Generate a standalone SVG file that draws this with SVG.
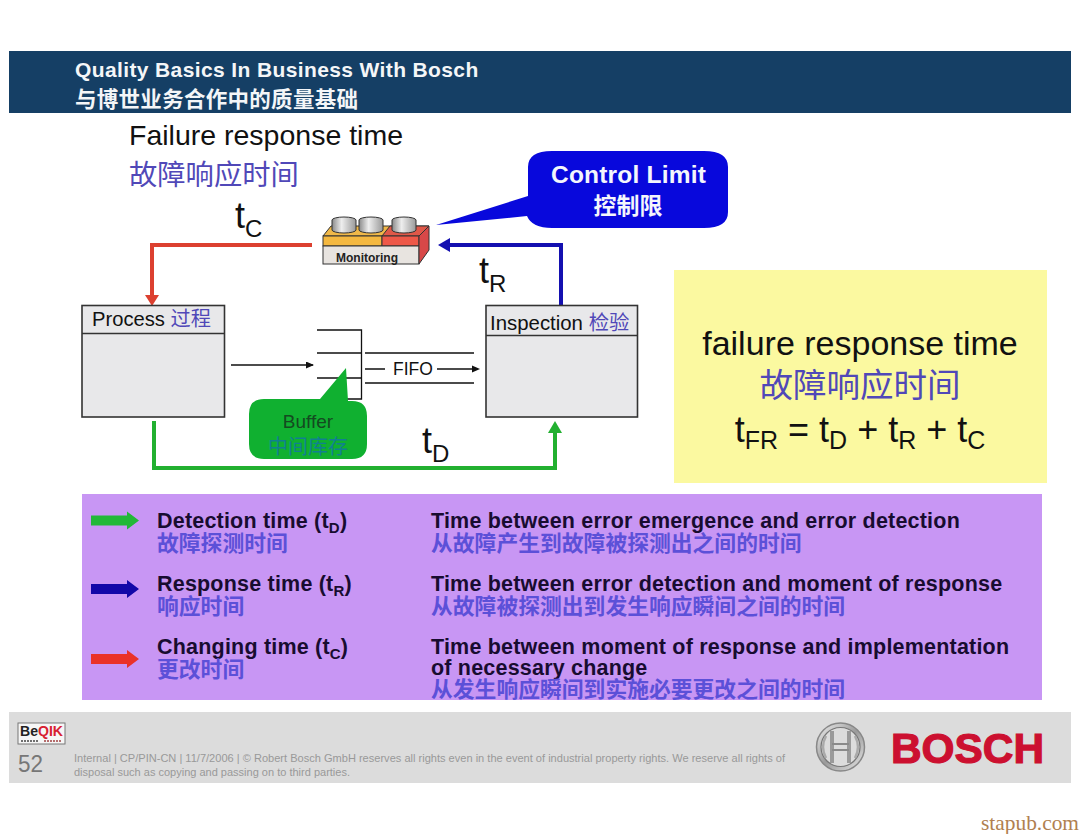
<svg xmlns="http://www.w3.org/2000/svg" width="1080" height="834" viewBox="0 0 1080 834">
<style>
text{font-family:"Liberation Sans","Noto Sans CJK SC",sans-serif}
.zh{fill:#5048b8}
.hd{font-weight:bold;fill:#f4f6f8;font-size:21px;letter-spacing:.38px}
.lg{font-weight:bold;fill:#180c30;font-size:21.5px;letter-spacing:.2px}
.lz{font-weight:bold;fill:#5c50d8;font-size:21.8px}
.sub{font-size:15px}
.box{fill:#e8e8ea;stroke:#333;stroke-width:1.6}
.thin{fill:none;stroke:#111;stroke-width:1.3}
.big{font-size:36px;fill:#111}
.bs{font-size:24px;fill:#111}
</style>
<defs>
<marker id="blk" markerWidth="8" markerHeight="8" refX="7" refY="3.5" orient="auto" markerUnits="userSpaceOnUse"><path d="M0 0L8 3.500L0 7Z" fill="#111"/></marker>
<linearGradient id="can" x1="0" x2="1" y1="0" y2="0"><stop offset="0" stop-color="#8a8a8a"/><stop offset=".4" stop-color="#eee"/><stop offset="1" stop-color="#999"/></linearGradient>
<linearGradient id="sil" x1="0" x2="1" y1="0" y2="1"><stop offset="0" stop-color="#f2f2f2"/><stop offset=".5" stop-color="#9a9a9a"/><stop offset="1" stop-color="#e8e8e8"/></linearGradient>
<path id="big-arrow" d="M0 -5H36V-9L48 0L36 9V5H0Z"/>
</defs>
<rect width="1080" height="834" fill="#fff"/>
<g id="header">
<rect x="9" y="51" width="1062" height="62" fill="#153f65"/>
<text class="hd" x="75" y="77">Quality Basics In Business With Bosch</text>
<text x="75" y="107" font-size="21.500" font-weight="bold" fill="#f4f6f8" textLength="283">与博世业务合作中的质量基础</text>
</g>
<g id="title">
<text x="129" y="145" font-size="28.500" fill="#111">Failure response time</text>
<text x="129" y="185" font-size="28.300" class="zh">故障响应时间</text>
</g>
<g id="connectors">
<path d="M312 245H152V298" fill="none" stroke="#dc4030" stroke-width="4"/>
<path d="M145 295H159L152 306Z" fill="#dc4030"/>
<path d="M561 305V245H448" fill="none" stroke="#1410b0" stroke-width="4"/>
<path d="M450 238V252L438 245Z" fill="#1410b0"/>
<path d="M154 421V468H555V430" fill="none" stroke="#22b030" stroke-width="4"/>
<path d="M548 433H562L555 421Z" fill="#22b030"/>
<path d="M231 365H313" class="thin" marker-end="url(#blk)"/>
<path d="M365 353H474M365 383H474M365 369H385M437 369H474" class="thin"/>
<path d="M472 365.500L480 369L472 372.500Z" fill="#111"/>
</g>
<g id="monitoring">
<path d="M323 236L331 226H429L419 236Z" fill="#f0b848" stroke="#333"/>
<path d="M382 236L390 226H429L419 236Z" fill="#e05848" stroke="#333"/>
<rect x="323" y="236" width="59" height="10" fill="#f4b840" stroke="#333"/>
<rect x="382" y="236" width="37" height="10" fill="#ee5848" stroke="#333"/>
<rect x="323" y="246" width="96" height="18" fill="#e8e4e0" stroke="#333"/>
<path d="M419 236L429 226V250L419 264Z" fill="#d84848" stroke="#333"/>
<g fill="url(#can)" stroke="#333">
<path d="M332 220a12 3 0 0 1 24 0V230a12 3 0 0 1-24 0Z"/>
<path d="M359 220a12 3 0 0 1 24 0V230a12 3 0 0 1-24 0Z"/>
<path d="M392 220a12 3 0 0 1 24 0V230a12 3 0 0 1-24 0Z"/>
</g>
<text x="367" y="262" font-size="12" font-weight="bold" text-anchor="middle" fill="#222">Monitoring</text>
</g>
<g id="control-limit">
<path d="M436 225L528 196V167Q528 151 552 151H704Q728 151 728 167V212Q728 228 704 228H552Q532 228 527 216Z" fill="#0808dc"/>
<text x="628.500" y="183" font-size="24.500" font-weight="bold" fill="#f4f6fc" text-anchor="middle" letter-spacing=".2">Control Limit</text>
<text x="628" y="214" font-size="23" font-weight="bold" fill="#f4f6fc" text-anchor="middle">控制限</text>
</g>
<g id="process">
<rect class="box" x="82" y="305.500" width="142.500" height="111.500"/>
<path d="M82 333.500H224.500" stroke="#333" stroke-width="1.600"/>
<text x="92" y="326" font-size="20.200" fill="#111">Process <tspan class="zh">过程</tspan></text>
</g>
<g id="inspection">
<rect class="box" x="486" y="305.500" width="151.500" height="111.500"/>
<path d="M486 335.500H637.500" stroke="#333" stroke-width="1.600"/>
<text x="490" y="330" font-size="20.400" fill="#111">Inspection <tspan class="zh">检验</tspan></text>
</g>
<g id="fifo">
<path class="thin" d="M317 330H361.500V399H345M317 353H361.500M317 378H361.500"/>
<text x="393" y="375" font-size="17.500" fill="#111">FIFO</text>
</g>
<g id="buffer">
<path d="M249 414Q249 399 264 399H320L346 368L348 401H352Q367 401 367 416V444Q367 459 352 459H264Q249 459 249 444Z" fill="#10b030"/>
<text x="308" y="428" font-size="19" fill="#144a20" text-anchor="middle">Buffer</text>
<text x="308" y="454" font-size="20" fill="#108090" text-anchor="middle">中间库存</text>
</g>
<g id="labels">
<text class="big" x="235" y="228">t<tspan class="bs" dy="9">C</tspan></text>
<text class="big" x="479" y="283">t<tspan class="bs" dy="9">R</tspan></text>
<text class="big" x="422" y="453">t<tspan class="bs" dy="9">D</tspan></text>
</g>
<g id="formula">
<rect x="674" y="270" width="373" height="213" fill="#fbf9a0"/>
<text x="860" y="355" font-size="34" fill="#111" text-anchor="middle">failure response time</text>
<text x="860" y="397" font-size="33.500" class="zh" text-anchor="middle">故障响应时间</text>
<text x="860" y="442" font-size="36" fill="#111" text-anchor="middle">t<tspan font-size="25" dy="7">FR</tspan><tspan dy="-7"> = t</tspan><tspan font-size="25" dy="7">D</tspan><tspan dy="-7"> + t</tspan><tspan font-size="25" dy="7">R</tspan><tspan dy="-7"> + t</tspan><tspan font-size="25" dy="7">C</tspan></text>
</g>
<g id="legend">
<rect x="82" y="494" width="960" height="206" fill="#c896f4"/>
<use href="#big-arrow" x="91" y="520.500" fill="#22b838"/>
<use href="#big-arrow" x="91" y="589" fill="#1208a8"/>
<use href="#big-arrow" x="91" y="659" fill="#ea3228"/>
<text class="lg" x="157" y="528">Detection time (t<tspan class="sub" dy="5">D</tspan><tspan dy="-5">)</tspan></text>
<text class="lz" x="157" y="551">故障探测时间</text>
<text class="lg" x="157" y="591">Response time (t<tspan class="sub" dy="5">R</tspan><tspan dy="-5">)</tspan></text>
<text class="lz" x="157" y="614">响应时间</text>
<text class="lg" x="157" y="654">Changing time (t<tspan class="sub" dy="5">C</tspan><tspan dy="-5">)</tspan></text>
<text class="lz" x="157" y="677">更改时间</text>
<text class="lg" x="431" y="528">Time between error emergence and error detection</text>
<text class="lz" x="431" y="551">从故障产生到故障被探测出之间的时间</text>
<text class="lg" x="431" y="591">Time between error detection and moment of response</text>
<text class="lz" x="431" y="614">从故障被探测出到发生响应瞬间之间的时间</text>
<text class="lg" x="431" y="654">Time between moment of response and implementation</text>
<text class="lg" x="431" y="675">of necessary change</text>
<text class="lz" x="431" y="697">从发生响应瞬间到实施必要更改之间的时间</text>
</g>
<g id="footer">
<rect x="9" y="712" width="1062" height="71" fill="#dcdcdc"/>
<rect x="18" y="723" width="47" height="21" fill="#f6f6f6" stroke="#777"/>
<text x="20" y="736" font-size="14" font-weight="bold" fill="#222" textLength="43" lengthAdjust="spacingAndGlyphs">Be<tspan fill="#d82030">QIK</tspan></text>
<path d="M21 741H38" stroke="#444" stroke-width="1.500" stroke-dasharray="2 1"/>
<path d="M44 741H61" stroke="#a04040" stroke-width="1.500" stroke-dasharray="2 1"/>
<text x="18" y="772" font-size="23" fill="#777" textLength="25" lengthAdjust="spacingAndGlyphs">52</text>
<text x="74" y="762" font-size="11.500" fill="#999" textLength="711" lengthAdjust="spacingAndGlyphs">Internal  | CP/PIN-CN | 11/7/2006 | © Robert Bosch GmbH reserves all rights even in the event of industrial property rights. We reserve all rights of</text>
<text x="74" y="776" font-size="11.500" fill="#999" textLength="276" lengthAdjust="spacingAndGlyphs">disposal such as copying and passing on to third parties.</text>
<circle cx="840.500" cy="747" r="24" fill="url(#sil)" stroke="#888" stroke-width="1.500"/>
<circle cx="840.500" cy="747" r="19.500" fill="#dcdcdc" stroke="#777" stroke-width="1.200"/>
<path d="M832 731V763M849 731V763" fill="none" stroke="#9a9a9a" stroke-width="4"/>
<path d="M832 744H849M832 750H849" fill="none" stroke="#8a8a8a" stroke-width="1.800"/>
<path d="M826 736Q820 747 826 758M855 736Q861 747 855 758" fill="none" stroke="#aaa" stroke-width="2.500"/>
<text x="891" y="762.500" font-size="43" font-weight="bold" fill="#cc1030" stroke="#cc1030" stroke-width="1.200" textLength="153" lengthAdjust="spacingAndGlyphs">BOSCH</text>
</g>
<text id="watermark" x="981" y="830" font-size="21" fill="#b08050" textLength="98" lengthAdjust="spacingAndGlyphs" style="font-family:'Liberation Serif',serif">stapub.com</text>
</svg>
